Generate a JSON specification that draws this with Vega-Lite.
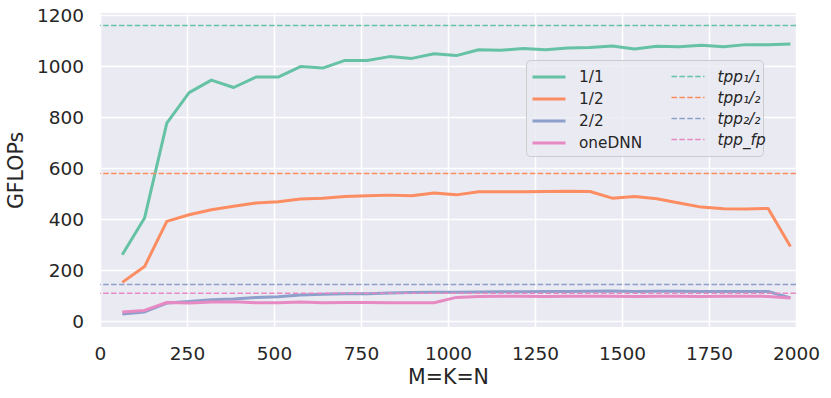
{
  "$schema": "https://vega.github.io/schema/vega-lite/v6.json",
  "width": 696,
  "height": 314,
  "autosize": {"type": "none"},
  "padding": {"left": 100, "top": 13, "right": 35, "bottom": 71},
  "background": "white",
  "config": {
    "font": "DejaVu Sans",
    "view": {"stroke": null, "fill": "#EAEAF2"},
    "axis": {
      "domain": false,
      "ticks": false,
      "grid": true,
      "gridColor": "white",
      "gridWidth": 1.5,
      "labelFont": "DejaVu Sans",
      "labelFontSize": 18.5,
      "labelColor": "#262626",
      "titleFont": "DejaVu Sans",
      "titleFontSize": 20.5,
      "titleColor": "#262626",
      "titleFontWeight": "normal",
      "format": "d"
    },
    "legend": {
      "labelFont": "DejaVu Sans",
      "labelFontSize": 15.3,
      "labelColor": "#262626",
      "labelLimit": 300
    }
  },
  "resolve": {"scale": {"color": "independent"}, "legend": {"color": "independent"}},
  "datasets": {
    "lines": [
      {"size": 64, "gflops": 261, "series": "1/1"},
      {"size": 128, "gflops": 405, "series": "1/1"},
      {"size": 192, "gflops": 777, "series": "1/1"},
      {"size": 256, "gflops": 897, "series": "1/1"},
      {"size": 320, "gflops": 946, "series": "1/1"},
      {"size": 384, "gflops": 917, "series": "1/1"},
      {"size": 448, "gflops": 958, "series": "1/1"},
      {"size": 512, "gflops": 958, "series": "1/1"},
      {"size": 576, "gflops": 999, "series": "1/1"},
      {"size": 640, "gflops": 993, "series": "1/1"},
      {"size": 704, "gflops": 1023, "series": "1/1"},
      {"size": 768, "gflops": 1023, "series": "1/1"},
      {"size": 832, "gflops": 1038, "series": "1/1"},
      {"size": 896, "gflops": 1031, "series": "1/1"},
      {"size": 960, "gflops": 1049, "series": "1/1"},
      {"size": 1024, "gflops": 1042, "series": "1/1"},
      {"size": 1088, "gflops": 1065, "series": "1/1"},
      {"size": 1152, "gflops": 1063, "series": "1/1"},
      {"size": 1216, "gflops": 1070, "series": "1/1"},
      {"size": 1280, "gflops": 1065, "series": "1/1"},
      {"size": 1344, "gflops": 1072, "series": "1/1"},
      {"size": 1408, "gflops": 1074, "series": "1/1"},
      {"size": 1472, "gflops": 1080, "series": "1/1"},
      {"size": 1536, "gflops": 1068, "series": "1/1"},
      {"size": 1600, "gflops": 1079, "series": "1/1"},
      {"size": 1664, "gflops": 1077, "series": "1/1"},
      {"size": 1728, "gflops": 1083, "series": "1/1"},
      {"size": 1792, "gflops": 1077, "series": "1/1"},
      {"size": 1856, "gflops": 1085, "series": "1/1"},
      {"size": 1920, "gflops": 1085, "series": "1/1"},
      {"size": 1984, "gflops": 1087, "series": "1/1"},

      {"size": 64, "gflops": 153, "series": "1/2"},
      {"size": 128, "gflops": 215, "series": "1/2"},
      {"size": 192, "gflops": 392, "series": "1/2"},
      {"size": 256, "gflops": 418, "series": "1/2"},
      {"size": 320, "gflops": 438, "series": "1/2"},
      {"size": 384, "gflops": 451, "series": "1/2"},
      {"size": 448, "gflops": 464, "series": "1/2"},
      {"size": 512, "gflops": 469, "series": "1/2"},
      {"size": 576, "gflops": 480, "series": "1/2"},
      {"size": 640, "gflops": 483, "series": "1/2"},
      {"size": 704, "gflops": 490, "series": "1/2"},
      {"size": 768, "gflops": 493, "series": "1/2"},
      {"size": 832, "gflops": 495, "series": "1/2"},
      {"size": 896, "gflops": 493, "series": "1/2"},
      {"size": 960, "gflops": 503, "series": "1/2"},
      {"size": 1024, "gflops": 496, "series": "1/2"},
      {"size": 1088, "gflops": 508, "series": "1/2"},
      {"size": 1152, "gflops": 508, "series": "1/2"},
      {"size": 1216, "gflops": 508, "series": "1/2"},
      {"size": 1280, "gflops": 509, "series": "1/2"},
      {"size": 1344, "gflops": 510, "series": "1/2"},
      {"size": 1408, "gflops": 509, "series": "1/2"},
      {"size": 1472, "gflops": 483, "series": "1/2"},
      {"size": 1536, "gflops": 490, "series": "1/2"},
      {"size": 1600, "gflops": 481, "series": "1/2"},
      {"size": 1664, "gflops": 464, "series": "1/2"},
      {"size": 1728, "gflops": 448, "series": "1/2"},
      {"size": 1792, "gflops": 442, "series": "1/2"},
      {"size": 1856, "gflops": 441, "series": "1/2"},
      {"size": 1920, "gflops": 443, "series": "1/2"},
      {"size": 1984, "gflops": 294, "series": "1/2"},

      {"size": 64, "gflops": 29, "series": "2/2"},
      {"size": 128, "gflops": 37, "series": "2/2"},
      {"size": 192, "gflops": 72, "series": "2/2"},
      {"size": 256, "gflops": 78, "series": "2/2"},
      {"size": 320, "gflops": 85, "series": "2/2"},
      {"size": 384, "gflops": 88, "series": "2/2"},
      {"size": 448, "gflops": 94, "series": "2/2"},
      {"size": 512, "gflops": 97, "series": "2/2"},
      {"size": 576, "gflops": 103, "series": "2/2"},
      {"size": 640, "gflops": 106, "series": "2/2"},
      {"size": 704, "gflops": 108, "series": "2/2"},
      {"size": 768, "gflops": 108, "series": "2/2"},
      {"size": 832, "gflops": 111, "series": "2/2"},
      {"size": 896, "gflops": 113, "series": "2/2"},
      {"size": 960, "gflops": 114, "series": "2/2"},
      {"size": 1024, "gflops": 114, "series": "2/2"},
      {"size": 1088, "gflops": 115, "series": "2/2"},
      {"size": 1152, "gflops": 116, "series": "2/2"},
      {"size": 1216, "gflops": 116, "series": "2/2"},
      {"size": 1280, "gflops": 117, "series": "2/2"},
      {"size": 1344, "gflops": 117, "series": "2/2"},
      {"size": 1408, "gflops": 118, "series": "2/2"},
      {"size": 1472, "gflops": 119, "series": "2/2"},
      {"size": 1536, "gflops": 117, "series": "2/2"},
      {"size": 1600, "gflops": 118, "series": "2/2"},
      {"size": 1664, "gflops": 118, "series": "2/2"},
      {"size": 1728, "gflops": 117, "series": "2/2"},
      {"size": 1792, "gflops": 117, "series": "2/2"},
      {"size": 1856, "gflops": 117, "series": "2/2"},
      {"size": 1920, "gflops": 117, "series": "2/2"},
      {"size": 1984, "gflops": 92, "series": "2/2"},

      {"size": 64, "gflops": 37, "series": "oneDNN"},
      {"size": 128, "gflops": 43, "series": "oneDNN"},
      {"size": 192, "gflops": 74, "series": "oneDNN"},
      {"size": 256, "gflops": 72, "series": "oneDNN"},
      {"size": 320, "gflops": 76, "series": "oneDNN"},
      {"size": 384, "gflops": 77, "series": "oneDNN"},
      {"size": 448, "gflops": 73, "series": "oneDNN"},
      {"size": 512, "gflops": 73, "series": "oneDNN"},
      {"size": 576, "gflops": 76, "series": "oneDNN"},
      {"size": 640, "gflops": 73, "series": "oneDNN"},
      {"size": 704, "gflops": 74, "series": "oneDNN"},
      {"size": 768, "gflops": 74, "series": "oneDNN"},
      {"size": 832, "gflops": 73, "series": "oneDNN"},
      {"size": 896, "gflops": 73, "series": "oneDNN"},
      {"size": 960, "gflops": 73, "series": "oneDNN"},
      {"size": 1024, "gflops": 94, "series": "oneDNN"},
      {"size": 1088, "gflops": 98, "series": "oneDNN"},
      {"size": 1152, "gflops": 99, "series": "oneDNN"},
      {"size": 1216, "gflops": 99, "series": "oneDNN"},
      {"size": 1280, "gflops": 98, "series": "oneDNN"},
      {"size": 1344, "gflops": 99, "series": "oneDNN"},
      {"size": 1408, "gflops": 99, "series": "oneDNN"},
      {"size": 1472, "gflops": 99, "series": "oneDNN"},
      {"size": 1536, "gflops": 98, "series": "oneDNN"},
      {"size": 1600, "gflops": 99, "series": "oneDNN"},
      {"size": 1664, "gflops": 99, "series": "oneDNN"},
      {"size": 1728, "gflops": 98, "series": "oneDNN"},
      {"size": 1792, "gflops": 99, "series": "oneDNN"},
      {"size": 1856, "gflops": 99, "series": "oneDNN"},
      {"size": 1920, "gflops": 98, "series": "oneDNN"},
      {"size": 1984, "gflops": 92, "series": "oneDNN"}
    ],
    "tpp": [
      {"gflops": 1160, "series": "tpp₁/₁"},
      {"gflops": 580, "series": "tpp₁/₂"},
      {"gflops": 145, "series": "tpp₂/₂"},
      {"gflops": 110, "series": "tpp_fp"}
    ]
  },
  "layer": [
    {
      "data": {"name": "lines"},
      "mark": {"type": "line", "strokeJoin": "round", "strokeWidth": 3},
      "encoding": {
        "x": {
          "field": "size", "type": "quantitative",
          "scale": {"domain": [0, 2000], "nice": false, "zero": false},
          "axis": {"values": [0, 250, 500, 750, 1000, 1250, 1500, 1750, 2000], "title": "M=K=N", "labelPadding": 17, "titlePadding": 5, "labelFlush": false}
        },
        "y": {
          "field": "gflops", "type": "quantitative",
          "scale": {"domain": [-22, 1209], "nice": false, "zero": false},
          "axis": {"values": [0, 200, 400, 600, 800, 1000, 1200], "title": "GFLOPs", "labelPadding": 16.5, "titlePadding": 10}
        },
        "color": {
          "field": "series", "type": "nominal",
          "scale": {
            "domain": ["1/1", "1/2", "2/2", "oneDNN"],
            "range": ["#66c2a5", "#fc8d62", "#8da0cb", "#e78ac3"]
          },
          "legend": {
            "orient": "none", "legendX": 426, "legendY": 47,
            "title": "\u2800\u00a0\u00a0\u00a0\u00a0\u00a0\u00a0\u00a0\u00a0\u00a0\u00a0\u00a0\u00a0\u00a0\u00a0\u00a0\u00a0\u00a0\u2800",
            "titleOrient": "right", "titlePadding": 2, "titleFontSize": 15.3,
            "symbolType": "M-0.913,0H1.957", "symbolSize": 529, "symbolStrokeWidth": 3, "labelOffset": 23,
            "rowPadding": -3.2, "padding": 4,
            "fillColor": "rgba(234,234,242,0.8)", "strokeColor": "#cccccc", "cornerRadius": 4
          }
        }
      }
    },
    {
      "data": {"name": "tpp"},
      "mark": {"type": "rule", "strokeWidth": 1.5, "strokeDash": [5.5, 2.4]},
      "encoding": {
        "y": {"field": "gflops", "type": "quantitative"},
        "color": {
          "field": "series", "type": "nominal",
          "scale": {
            "domain": ["tpp₁/₁", "tpp₁/₂", "tpp₂/₂", "tpp_fp"],
            "range": ["#66c2a5", "#fc8d62", "#8da0cb", "#e78ac3"]
          },
          "legend": {
            "orient": "none", "legendX": 569.5, "legendY": 51, "title": null,
            "symbolType": "M-0.913,0H1.957", "symbolSize": 529, "symbolStrokeWidth": 1.5, "symbolDash": [5.5, 2.4],
            "labelOffset": 23, "labelFontStyle": "italic",
            "rowPadding": -3.2, "padding": 0
          }
        }
      }
    }
  ]
}
